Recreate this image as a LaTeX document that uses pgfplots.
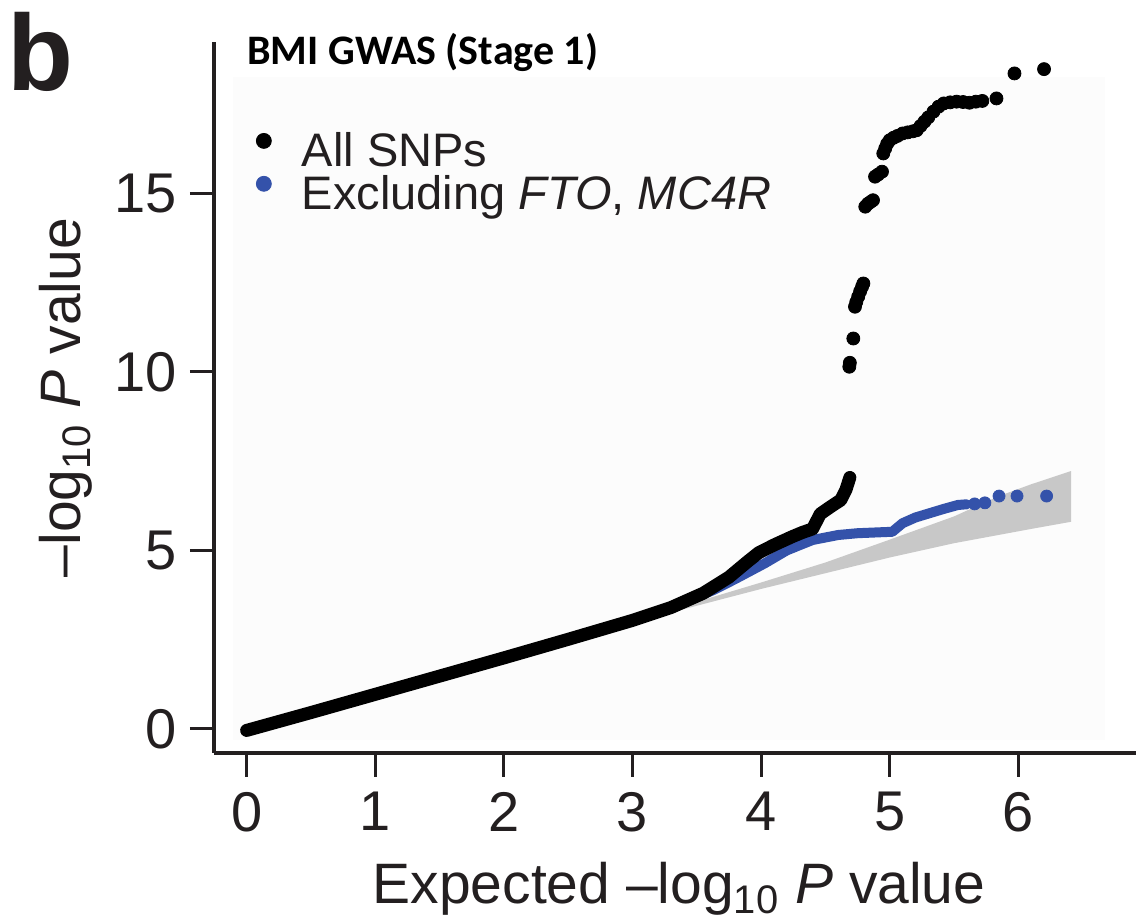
\documentclass[border=0pt]{standalone}
\usepackage{fontspec}
\setmainfont{Liberation Sans}
\newfontfamily\titlefont{Carlito}
\usepackage{pgfplots}
\pgfplotsset{compat=1.18}
\definecolor{snpblue}{RGB}{52,82,170}
\definecolor{txt}{RGB}{35,31,32}
\definecolor{bandgray}{RGB}{200,200,200}
\begin{document}
\begin{tikzpicture}
\begin{axis}[
  at={(0pt,0pt)}, anchor=south west,
  scale only axis, width=461pt, height=355.5pt,
  xmin=-0.254, xmax=6.915, ymin=-0.672, ymax=19.23,
  axis x line*=bottom, axis y line*=left,
  axis line style={line width=1.6pt, color=txt, -},
  xtick={0,1,2,3,4,5,6}, ytick={0,5,10,15},
  tick align=outside, major tick length=12pt,
  tick style={line width=1.5pt, color=txt},
  ticklabel style={font=\fontsize{28}{32}\selectfont, text=txt},
  xticklabel style={yshift=-4pt},
  yticklabel style={xshift=-3pt},
  /pgf/number format/assume math mode=true,
  xlabel={Expected \textendash log\textsubscript{10} \textit{P} value},
  ylabel={\textendash log\textsubscript{10} \textit{P} value},
  label style={font=\fontsize{28.5}{32}\selectfont, text=txt, inner sep=0pt},
  xlabel style={at={(axis description cs:0.5043,-0.2110)}, anchor=base},
  ylabel style={at={(axis description cs:-0.1453,0.5000)}, anchor=base},
  clip=false,
  legend style={draw=none, fill=none, at={(axis description cs:0.0455,0.872)}, anchor=north west,
    inner sep=0pt, outer sep=0pt, row sep=0pt,
    nodes={inner sep=0pt, text height=15.5pt, text depth=4.5pt, font=\fontsize{23.5}{26}\selectfont, text=txt}},
  legend cell align=left,
  legend image code/.code={\fill (0pt,7.5pt) circle (3.75pt); \path[draw=none,fill=none] (-3.75pt,0pt) -- (19pt,0pt);},
]
\fill[black!1] (axis cs:-0.107,-0.31) rectangle (axis cs:6.67,18.25);
% confidence band
\addplot[fill=bandgray, draw=none, forget plot] coordinates {
(2.0,2.0) (3.0,3.03) (3.5,3.56) (4.0,4.1) (4.5,4.66) (5.0,5.3) (5.5,5.95) (5.85,6.52) (6.1,6.85) (6.41,7.22)
(6.41,5.80) (6.1,5.6) (5.5,5.2) (5.0,4.8) (4.5,4.36) (4.0,3.92) (3.5,3.45) (3.0,2.97) (2.0,1.99)} -- cycle;
% excluding FTO, MC4R
\addplot[snpblue, line width=5pt, line cap=round, line join=round, forget plot] coordinates {
(0,-0.04) (0.5,0.46) (1,0.97) (1.5,1.48) (2,1.99) (2.5,2.51) (3,3.04) (3.3,3.4) (3.63,3.89) (3.8,4.2) (4.03,4.64)
(4.2,5.0) (4.40,5.29) (4.6,5.43) (4.75,5.48) (5.02,5.52) (5.10,5.76) (5.2,5.92) (5.31,6.04) (5.42,6.16) (5.53,6.27) (5.6,6.29)};
\addplot[only marks, mark=*, mark size=3pt, snpblue, forget plot] coordinates {
(5.66,6.30) (5.74,6.33) (5.85,6.52) (5.99,6.52) (6.22,6.52)};
% all SNPs
\addplot[black, line width=6.5pt, line cap=round, line join=round, forget plot] coordinates {
(0,-0.04) (0.5,0.46) (1,0.97) (1.5,1.48) (2,1.99) (2.5,2.51) (3,3.04) (3.3,3.4) (3.55,3.8) (3.75,4.25) (3.9,4.7)
(3.98,4.93) (4.1,5.15) (4.24,5.38) (4.32,5.5) (4.40,5.6) (4.46,6.02) (4.54,6.22) (4.62,6.41) (4.66,6.7) (4.69,7.04)};
\addplot[only marks, mark=*, mark size=3.25pt, black, forget plot] coordinates {
(4.686,10.14) (4.69,10.25) (4.717,10.93) (4.73,11.82) (4.74,11.95) (4.755,12.1) (4.77,12.25) (4.785,12.38) (4.795,12.47)
(4.81,14.62) (4.83,14.7) (4.85,14.75) (4.87,14.8)
(4.886,15.46) (4.91,15.52) (4.94,15.6)
(4.95,16.11) (4.965,16.25) (4.98,16.38) (5.0,16.48) (5.03,16.55) (5.06,16.6) (5.1,16.67) (5.14,16.7) (5.18,16.73)
(5.21,16.76) (5.24,16.88) (5.27,17.0) (5.3,17.12) (5.34,17.28) (5.38,17.42) (5.42,17.51) (5.47,17.54) (5.52,17.56)
(5.57,17.55) (5.62,17.53) (5.67,17.56) (5.72,17.58) (5.83,17.65) (5.97,18.35) (6.20,18.47)};
\addlegendimage{black}
\addlegendentry{All SNPs}
\addlegendimage{snpblue}
\addlegendentry{Excluding \textit{FTO}, \textit{MC4R}}
\end{axis}
\node[anchor=base west, inner sep=0pt, text=black] at (16.5pt,344pt) {\titlefont\bfseries\fontsize{21}{24}\selectfont BMI GWAS (Stage 1)};
\node[anchor=base west, inner sep=0pt, text=txt] at (-103.5pt,331pt) {\bfseries\fontsize{54}{60}\selectfont b};
\pgfresetboundingbox
\useasboundingbox (-107pt,-85.5pt) rectangle (461pt,376.5pt);
\end{tikzpicture}
\end{document}
